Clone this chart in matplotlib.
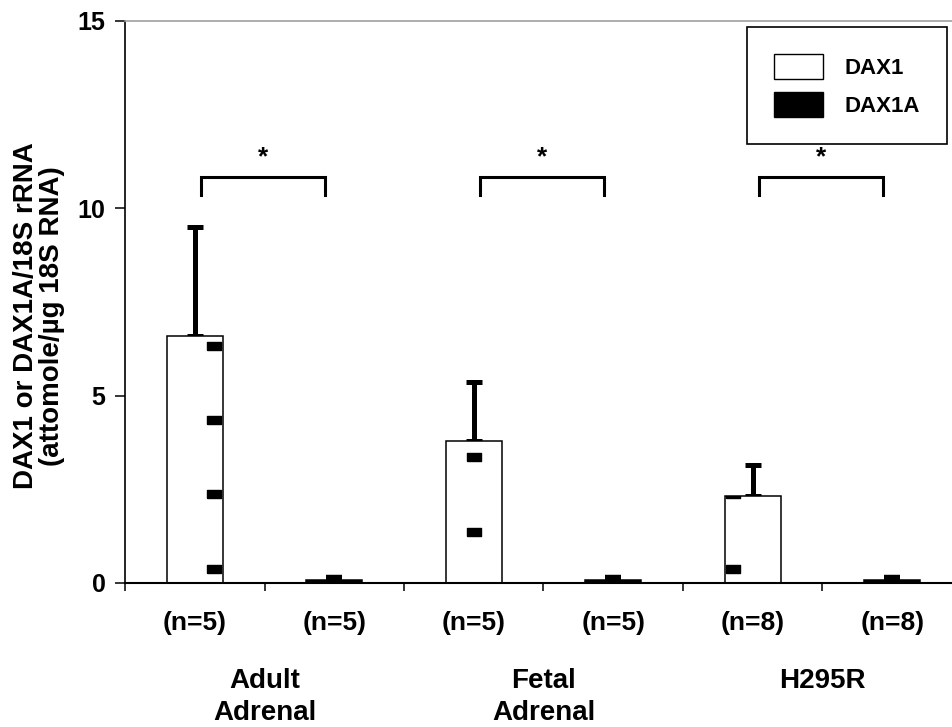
import matplotlib
matplotlib.use("Agg")
import matplotlib.pyplot as plt
from matplotlib.patches import Patch
from matplotlib.transforms import blended_transform_factory

plt.rcParams['font.family'] = ['Liberation Sans', 'DejaVu Sans']
plt.rcParams['font.weight'] = 'bold'

#---------- data ----------
groups = ["Adult\nAdrenal", "Fetal\nAdrenal", "H295R"]
n_labels = ["(n=5)", "(n=5)", "(n=5)", "(n=5)", "(n=8)", "(n=8)"]
dax1 = [6.6, 3.8, 2.32]
dax1_err = [2.9, 1.56, 0.83]
dax1a = [0.08, 0.08, 0.08]
dax1a_err = [0.07, 0.07, 0.07]

# little black marks printed inside the DAX1 bars
marks = [[0.37, 2.37, 4.35, 6.33], [1.36, 3.36], [0.37, 2.37]]
mark_offset = [0.14, 0.0, -0.14]

# bracket heights for the significance stars
bracket_low = 10.35
bracket_high = 10.83

#---------- figure ----------
fig = plt.figure(figsize=(9.53, 7.27), dpi=100)
ax = fig.add_axes([125 / 953, 144 / 727, 828 / 953, 562 / 727])

x_dax1 = [0.5, 2.5, 4.5]
x_dax1a = [1.5, 3.5, 5.5]
width = 0.4

bars = ax.bar(x_dax1, dax1, width, color='white', edgecolor='black', linewidth=1.1, zorder=2)
ax.bar(x_dax1a, dax1a, width, color='black', edgecolor='black', linewidth=1.1, zorder=2)

ax.errorbar(x_dax1, dax1, yerr=[[0] * 3, dax1_err], fmt='none', ecolor='black',
            elinewidth=3.6, capsize=5.5, capthick=3.6, zorder=1)
ax.errorbar(x_dax1a, dax1a, yerr=[[0] * 3, dax1a_err], fmt='none', ecolor='black',
            elinewidth=3.6, capsize=5.5, capthick=3.2, zorder=1)

# rectangular marks, clipped to their bar
rect = [(-1.6, -1), (1.6, -1), (1.6, 1), (-1.6, 1), (-1.6, -1)]
for i, vals in enumerate(marks):
    line, = ax.plot([x_dax1[i] + mark_offset[i]] * len(vals), vals, ls='none',
                    marker=rect, markersize=9.5, color='black', zorder=3)
    line.set_clip_path(bars[i])

# significance brackets
for i in range(3):
    xl = x_dax1[i] + 0.045
    xr = x_dax1a[i] - 0.065
    ax.plot([xl, xl, xr, xr], [bracket_low, bracket_high, bracket_high, bracket_low],
            color='black', lw=2.2, solid_joinstyle='miter', zorder=2)
    ax.text((xl + xr) / 2, bracket_high + 0.22, "*", ha='center', va='bottom', fontsize=19)

ax.set_xlim(0, 828 / 139.5)
ax.set_ylim(0, 15)
ax.set_yticks([0, 5, 10, 15])
ax.set_xticks(range(0, 6))
ax.set_xticklabels([])
ax.tick_params(axis='y', direction='out', length=7, width=1.1, labelsize=18, pad=7)
ax.tick_params(axis='x', direction='out', length=6, width=1.1)

ax.spines['right'].set_visible(False)
ax.spines['top'].set_color('#a0a0a0')
ax.spines['top'].set_linewidth(1.2)
ax.spines['left'].set_linewidth(1.2)
ax.spines['bottom'].set_linewidth(1.5)

# labels under the axis
trans = blended_transform_factory(ax.transData, ax.transAxes)
for x, lab in zip(sorted(x_dax1 + x_dax1a), n_labels):
    ax.text(x, -0.05, lab, transform=trans, ha='center', va='top', fontsize=19)
for i, g in enumerate(groups):
    ax.text(x_dax1[i] + 0.5, -0.152, g, transform=trans, ha='center', va='top',
            fontsize=20, linespacing=1.3)

ax.set_ylabel("DAX1 or DAX1A/18S rRNA\n(attomole/\u00b5g 18S RNA)", fontsize=20,
              fontweight='bold', linespacing=1.0)
ax.yaxis.set_label_coords(-0.072, 0.475)

handles = [Patch(facecolor='white', edgecolor='black', linewidth=1.0, label='DAX1'),
           Patch(facecolor='black', edgecolor='black', label='DAX1A')]
leg = fig.legend(handles=handles, loc='upper left', bbox_to_anchor=(747 / 953, 1 - 27 / 727),
                 fontsize=16, handlelength=2.2, handleheight=1.4, handletextpad=1.0,
                 labelspacing=0.55, borderpad=1.2, borderaxespad=0, fancybox=False,
                 framealpha=1, edgecolor='black')
leg.get_frame().set_linewidth(1.2)

fig.savefig("out.png", dpi=100)
